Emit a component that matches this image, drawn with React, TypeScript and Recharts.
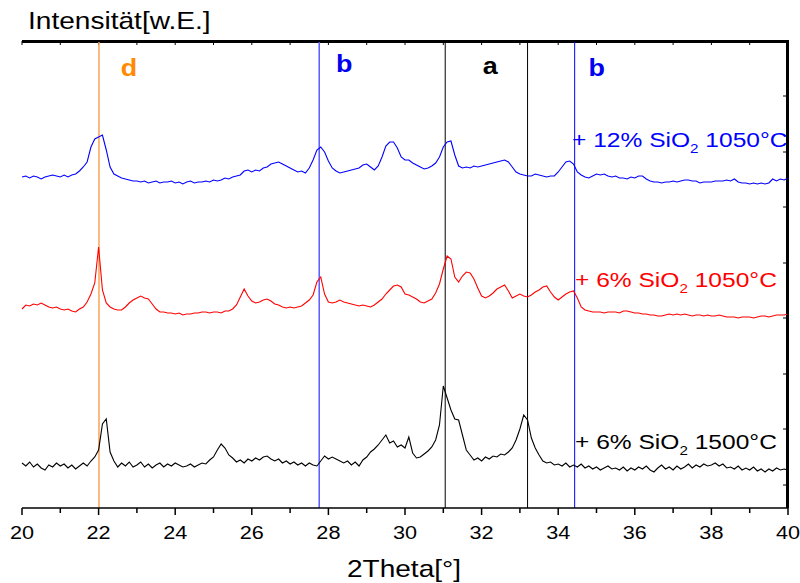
import React from 'react';
import { LineChart, Line, XAxis, YAxis, ReferenceLine, CartesianGrid, Customized } from 'recharts';

// 2Theta Raster (20.0 ... 40.0 in 0.1er Schritten)
const twoTheta = Array.from({ length: 201 }, (_, i) => (200 + i) / 10);

const sio2_12_1050 = [
  331, 332, 330, 332, 331, 329, 331, 332, 333, 332,
  331, 333, 331, 333, 334, 337, 341, 346, 361, 369,
  371, 373, 358, 341, 334, 332, 330, 329, 328, 327,
  327, 326, 327, 325, 326, 327, 325, 326, 326, 327,
  325, 326, 324, 326, 327, 325, 326, 326, 327, 326,
  328, 327, 328, 330, 329, 331, 332, 333, 337, 338,
  336, 338, 337, 340, 341, 344, 345, 346, 344, 342,
  340, 338, 336, 337, 335, 340, 348, 358, 361, 356,
  347, 340, 337, 335, 336, 337, 338, 339, 340, 343,
  344, 341, 338, 342, 351, 362, 366, 366, 360, 351,
  348, 348, 345, 343, 341, 339, 340, 342, 345, 351,
  361, 366, 367, 353, 342, 340, 341, 340, 342, 341,
  342, 343, 344, 345, 346, 347, 348, 346, 341, 336,
  334, 333, 332, 332, 334, 333, 332, 331, 332, 332,
  336, 341, 346, 347, 344, 336, 333, 331, 330, 332,
  334, 333, 334, 332, 331, 332, 330, 330, 329, 331,
  330, 332, 332, 329, 327, 326, 326, 325, 326, 326,
  327, 326, 327, 328, 328, 327, 327, 325, 326, 326,
  326, 327, 327, 327, 328, 327, 329, 326, 325, 325,
  324, 325, 324, 325, 324, 325, 329, 327, 329, 328,
  330,
];

const sio2_6_1050 = [
  199, 203, 202, 204, 203, 205, 203, 201, 200, 201,
  199, 198, 199, 197, 196, 199, 201, 206, 214, 225,
  261, 218, 205, 201, 199, 198, 198, 201, 205, 208,
  210, 212, 210, 209, 204, 199, 196, 196, 195, 195,
  194, 195, 193, 194, 194, 195, 195, 196, 196, 195,
  196, 196, 195, 197, 197, 199, 203, 211, 219, 212,
  207, 205, 206, 208, 209, 207, 204, 203, 201, 200,
  201, 200, 201, 202, 205, 208, 213, 226, 231, 214,
  206, 205, 206, 208, 206, 205, 204, 203, 202, 203,
  202, 201, 203, 206, 209, 214, 218, 222, 223, 221,
  214, 213, 211, 209, 206, 205, 207, 209, 215, 224,
  239, 252, 249, 231, 226, 232, 236, 235, 229, 220,
  212, 210, 212, 215, 219, 221, 223, 217, 210, 212,
  214, 212, 211, 213, 216, 218, 221, 222, 216, 211,
  208, 211, 214, 216, 217, 210, 201, 198, 197, 196,
  196, 196, 195, 196, 196, 196, 195, 197, 197, 196,
  195, 195, 194, 194, 193, 193, 192, 192, 193, 194,
  193, 194, 193, 194, 193, 192, 193, 193, 192, 193,
  192, 192, 193, 192, 191, 191, 191, 190, 191, 191,
  191, 190, 191, 192, 192, 191, 192, 193, 193, 193,
  194,
];

const sio2_6_1500 = [
  45, 42, 46, 41, 44, 40, 38, 43, 41, 45,
  42, 44, 40, 43, 39, 42, 45, 42, 47, 51,
  58, 84, 89, 56, 47, 41, 45, 42, 46, 41,
  43, 46, 41, 44, 40, 43, 45, 41, 44, 42,
  45, 43, 41, 42, 44, 41, 43, 45, 44, 48,
  51, 58, 64, 60, 53, 50, 46, 48, 45, 49,
  47, 50, 48, 51, 52, 49, 47, 49, 45, 47,
  44, 46, 43, 45, 42, 45, 43, 42, 47, 52,
  49, 51, 49, 47, 45, 47, 43, 46, 42, 48,
  51, 56, 59, 63, 68, 73, 65, 67, 61, 63,
  60, 71, 55, 50, 51, 54, 57, 61, 68, 83,
  122, 110, 98, 89, 88, 73, 58, 53, 48, 50,
  47, 51, 49, 52, 51, 54, 53, 56, 60, 68,
  79, 93, 88, 70, 60, 53, 47, 45, 46, 43,
  44, 42, 45, 41, 43, 41, 44, 40, 42, 39,
  41, 38, 40, 42, 39, 40, 38, 41, 37, 40,
  38, 41, 39, 42, 38, 36, 40, 43, 39, 41,
  38, 42, 39, 41, 44, 40, 43, 41, 44, 42,
  43, 45, 42, 44, 40, 41, 39, 42, 38, 40,
  38, 41, 37, 39, 36, 39, 37, 40, 38, 39,
  38,
];

const xTicks = [20, 21, 22, 23, 24, 25, 26, 27, 28, 29, 30, 31, 32, 33, 34, 35, 36, 37, 38, 39, 40];
const yTicks = [23, 79, 134, 190, 245, 301, 356, 412];
const Y_MAX = 467;

// Reflexlagen
const phaseLines = [22.01, 27.76, 31.05, 33.2, 34.43];

const data = twoTheta.map((t, i) => ({
  t,
  s12: sio2_12_1050[i],
  s6: sio2_6_1050[i],
  s6h: sio2_6_1500[i],
}));

const FONT = "Arial, 'Liberation Sans', sans-serif";
const STRETCH = 1.17; // Original ist horizontal gestreckt

const SText = ({ x, y, anchor = 'start', size, fill = '#000', weight = 'normal', children }: any) => (
  <text
    transform={`translate(${x},${y}) scale(${STRETCH},1)`}
    textAnchor={anchor}
    fontSize={size}
    fontWeight={weight}
    fill={fill}
    fontFamily={FONT}
  >
    {children}
  </text>
);

const BottomTick = (props: any) => {
  const { x, y, payload } = props;
  const major = payload.value % 2 === 0;
  return (
    <g>
      <line x1={x} x2={x} y1={y} y2={y + (major ? 7 : 5)} stroke="#000" strokeWidth={1.5} />
      {major && (
        <SText x={x} y={y + 31} anchor="middle" size={18.5}>
          {payload.value}
        </SText>
      )}
    </g>
  );
};

const Letter = ({ viewBox, text, color, dx, dy }: any) => (
  <SText x={viewBox.x + dx} y={viewBox.y + dy} anchor="middle" size={23} weight="bold" fill={color}>
    {text}
  </SText>
);

const SampleLabel = ({ x, y, pct, temp, color }: any) => (
  <text
    transform={`translate(${x},${y}) scale(${STRETCH},1)`}
    fontSize={21}
    fill={color}
    fontFamily={FONT}
  >
    {`+ ${pct}% SiO`}
    <tspan dy={6} fontSize={13}>2</tspan>
    <tspan dy={-6}>{` ${temp}°C`}</tspan>
  </text>
);

const Annotations = () => (
  <g>
    {/* Rahmen oben und rechts */}
    <path d="M22,41 H788 V508" fill="none" stroke="#000" strokeWidth={2} />
    <SText x={28} y={29} size={24}>Intensität[w.E.]</SText>
    <SText x={404} y={577} anchor="middle" size={24}>2Theta[°]</SText>
    <SampleLabel x={572} y={147} pct={12} temp={1050} color="#0000ff" />
    <SampleLabel x={575} y={287} pct={6} temp={1050} color="#ff0000" />
    <SampleLabel x={575} y={449} pct={6} temp={1500} color="#000000" />
  </g>
);

const frameStyle: React.CSSProperties = {
  position: 'absolute',
  left: 22,
  top: 40,
  width: 767,
  height: 468,
  borderTop: '2px solid #000',
  borderRight: '2px solid #000',
  boxSizing: 'border-box',
  pointerEvents: 'none',
};

export default function App() {
  return (
    <div style={{ position: 'absolute', left: 0, top: 0, width: 800, height: 583, background: '#fff' }}>
      <LineChart width={800} height={583} data={data} margin={{ top: 41, right: 12, bottom: 0, left: 22 }}>
        {/* Rahmen oben/rechts zusätzlich über das Gitter */}
        <CartesianGrid
          yAxisId="left"
          horizontalPoints={[42]}
          verticalPoints={[787]}
          stroke="#000"
          strokeWidth={2}
          strokeOpacity={1}
        />
        <XAxis
          dataKey="t"
          type="number"
          domain={[20, 40]}
          ticks={xTicks}
          interval={0}
          height={75}
          tickSize={0}
          tickMargin={0}
          tickLine={false}
          tick={<BottomTick />}
          axisLine={{ stroke: '#000', strokeWidth: 1.5 }}
        />
        <YAxis
          yAxisId="left"
          domain={[0, Y_MAX]}
          ticks={yTicks}
          width={0}
          mirror
          tickSize={5}
          tick={false}
          tickLine={{ stroke: '#000' }}
          axisLine={{ stroke: '#000', strokeWidth: 2 }}
        />

        {/* nach innen zeigende Ticks oben und rechts */}
        {xTicks.map((t) => (
          <ReferenceLine key={`tt${t}`} yAxisId="left" stroke="#000" strokeWidth={1}
            segment={[{ x: t, y: Y_MAX }, { x: t, y: Y_MAX - 4 }]} />
        ))}
        {yTicks.map((v) => (
          <ReferenceLine key={`rt${v}`} yAxisId="left" stroke="#000" strokeWidth={1}
            segment={[{ x: 40, y: v }, { x: 39.87, y: v }]} />
        ))}

        <ReferenceLine yAxisId="left" x={phaseLines[0]} stroke="#f7a456" strokeWidth={1.5}
          label={<Letter text="d" color="#ff8a00" dx={30} dy={35} />} />
        <ReferenceLine yAxisId="left" x={phaseLines[1]} stroke="#5a5aff" strokeWidth={1.5}
          label={<Letter text="b" color="#0000ee" dx={25} dy={31} />} />
        <ReferenceLine yAxisId="left" x={phaseLines[2]} stroke="#000" strokeWidth={1}
          label={<Letter text="a" color="#000" dx={45} dy={33} />} />
        <ReferenceLine yAxisId="left" x={phaseLines[3]} stroke="#000" strokeWidth={1} />
        <ReferenceLine yAxisId="left" x={phaseLines[4]} stroke="#0000ff" strokeWidth={1}
          label={<Letter text="b" color="#0000ee" dx={22} dy={35} />} />

        <Line yAxisId="left" type="linear" dataKey="s12" stroke="#0000ff" strokeWidth={1.1} dot={false} isAnimationActive={false} />
        <Line yAxisId="left" type="linear" dataKey="s6" stroke="#ff0000" strokeWidth={1.1} dot={false} isAnimationActive={false} />
        <Line yAxisId="left" type="linear" dataKey="s6h" stroke="#000000" strokeWidth={1.1} dot={false} isAnimationActive={false} />

        <Customized component={<Annotations />} />
      </LineChart>
      <div style={frameStyle} />
    </div>
  );
}
